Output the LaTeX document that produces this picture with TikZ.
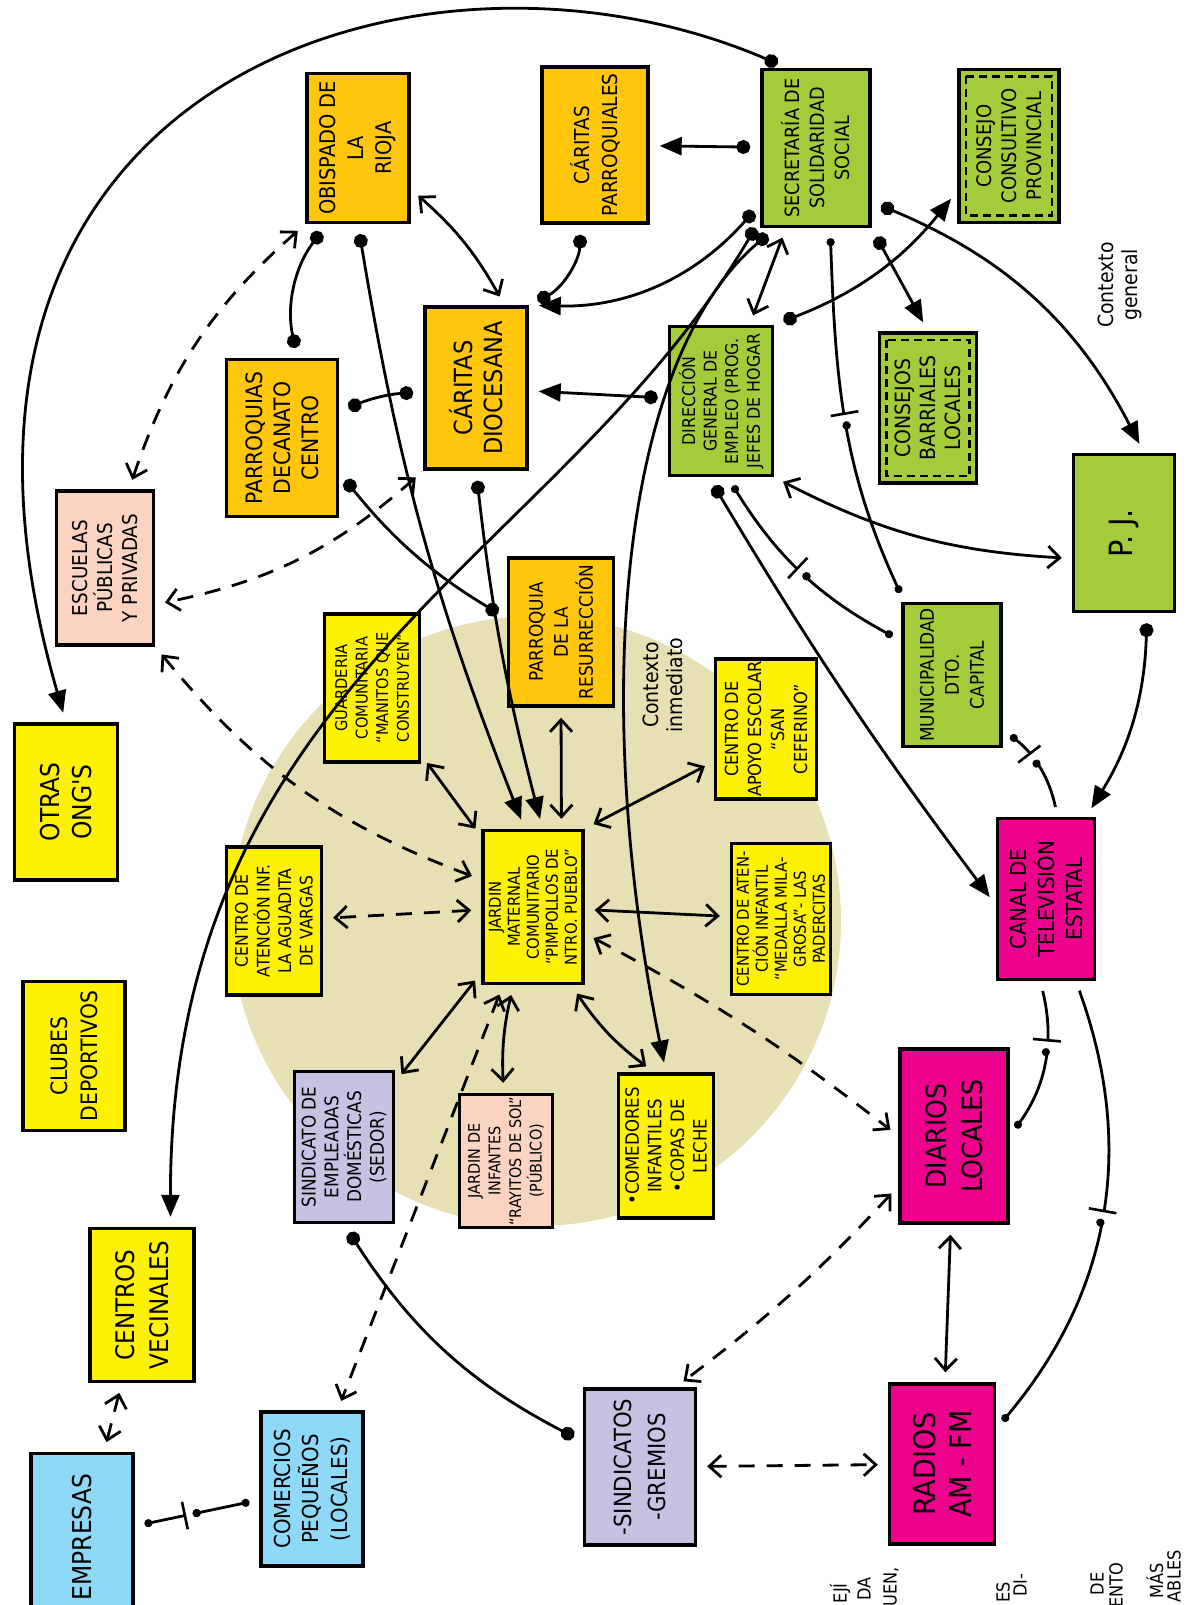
\documentclass[tikz,border=0pt]{standalone}
\usepackage{fontspec}
\newfontfamily\handfont{DejaVu Sans Condensed}
\usetikzlibrary{arrows.meta,decorations.markings}
\definecolor{orng}{RGB}{255,198,11}
\definecolor{grn}{RGB}{164,204,58}
\definecolor{yel}{RGB}{255,242,0}
\definecolor{peach}{RGB}{251,211,193}
\definecolor{lav}{RGB}{198,195,226}
\definecolor{mag}{RGB}{236,0,140}
\definecolor{blu}{RGB}{142,216,248}
\definecolor{beige}{RGB}{231,224,180}
\tikzset{
  box/.style={draw, line width=1.7pt, rotate=90, align=center, inner sep=1pt,
    font=\handfont\fontsize{10}{12.5}\selectfont},
  fs/.style 2 args={font=\handfont\fontsize{#1}{#2}\selectfont},
  sz/.style 2 args={minimum width=#2*0.5pt, minimum height=#1*0.5pt},
  innerdash/.style={draw, rotate=90, line width=1.1pt, dash pattern=on 4pt off 2.5pt},
  dt/.tip={Circle[length=7pt]},
  sdt/.tip={Circle[length=4pt]},
  tri/.tip={Triangle[length=11pt,width=9pt]},
  opn/.tip={Straight Barb[length=6pt,width=11pt]},
  link/.style={line width=1.4pt, shorten <=5pt, shorten >=5pt},
  dashlink/.style={link, dash pattern=on 8pt off 6pt},
  brk/.style={postaction={decorate, decoration={markings, mark=at position #1 with {
    \fill[white] (-2.5pt,-2pt) rectangle (2.5pt,2pt);
    \draw[line width=1.3pt] (-3pt,-7pt) -- (-3pt,7pt) (3pt,-7pt) -- (3pt,7pt);}}}},
  lbl/.style={rotate=90, align=center, font=\handfont\fontsize{10.5}{12}\selectfont},
  frag/.style={rotate=90, anchor=east, inner sep=0pt, font=\handfont\fontsize{9}{10}\selectfont}
}
\begin{document}
\begin{tikzpicture}[x=0.5pt,y=0.5pt]
\useasboundingbox (0,0) rectangle (1186,-1605);
\fill[beige] (536,-921) circle[radius=152.5pt];

\node[box, fill=orng, fs={10.8}{14}, sz={102}{149}] (obispado) at (358,-148) {OBISPADO DE\\LA\\RIOJA};
\node[box, fill=orng, fs={10.3}{14}, sz={106}{156}] (caritasp) at (595,-145) {CÁRITAS\\PARROQUIALES};
\node[box, fill=grn, fs={9.8}{12.5}, sz={108}{157}] (secretaria) at (816,-148) {SECRETARÍA DE\\SOLIDARIDAD\\SOCIAL};
\node[box, fill=grn, fs={10}{12.5}, sz={100}{153}] (consejop) at (1009,-146) {CONSEJO\\CONSULTIVO\\PROVINCIAL};
\node[innerdash, sz={86}{139}] (consejopin) at (consejop) {};
\node[box, fill=orng, fs={12.5}{15}, sz={102}{162}] (caritasd) at (476,-388) {CÁRITAS\\DIOCESANA};
\node[box, fill=orng, fs={11.3}{14}, sz={111}{157}] (parroquias) at (282,-438) {PARROQUIAS\\DECANATO\\CENTRO};
\node[box, fill=grn, fs={8.8}{10.8}, sz={103}{149}] (direccion) at (721,-401) {DIRECCIÓN\\GENERAL DE\\EMPLEO (PROG.\\JEFES DE HOGAR};
\node[box, fill=grn, fs={10.5}{12.5}, sz={97}{150}] (consejosb) at (928,-408) {CONSEJOS\\BARRIALES\\LOCALES};
\node[innerdash, sz={83}{136}] (consejosbin) at (consejosb) {};
\node[box, fill=peach, fs={10.2}{12.5}, sz={97}{154}] (escuelas) at (105,-568) {ESCUELAS\\PÚBLICAS\\Y PRIVADAS};
\node[box, fill=grn, fs={16}{18}, sz={101}{157}] (pj) at (1124,-533) {P. J.};
\node[box, fill=orng, fs={9.4}{12.5}, sz={105}{148}] (resurreccion) at (561,-632) {PARROQUIA\\DE LA\\RESURRECCIÓN};
\node[box, fill=yel, fs={8.1}{10.3}, sz={95}{148}] (guarderia) at (372,-688) {GUARDERIA\\COMUNITARIA\\“MANITOS QUE\\CONSTRUYEN”};
\node[box, fill=yel, fs={9}{11.5}, sz={101}{138}] (apoyo) at (766,-729) {CENTRO DE\\APOYO ESCOLAR\\“SAN\\CEFERINO”};
\node[box, fill=grn, fs={9.4}{12.5}, sz={98}{143}] (municipalidad) at (952,-675) {MUNICIPALIDAD\\DTO.\\CAPITAL};
\node[box, fill=yel, fs={13}{16}, sz={103}{156}] (ongs) at (66,-802) {OTRAS\\ONG'S};
\node[box, fill=yel, fs={8.7}{10.8}, sz={95}{148}] (aguadita) at (274,-921) {CENTRO DE\\ATENCIÓN INF.\\LA AGUADITA\\DE VARGAS};
\node[box, fill=yel, fs={8.2}{9.5}, sz={100}{153}] (jardin) at (533,-907) {JARDIN\\MATERNAL\\COMUNITARIO\\“PIMPOLLOS DE\\NTRO. PUEBLO”};
\node[box, fill=yel, fs={8.2}{9.5}, sz={99}{151}] (medalla) at (781,-919) {CENTRO DE ATEN-\\CIÓN INFANTIL\\“MEDALLA MILA-\\GROSA”- LAS\\PADERCITAS};
\node[box, fill=mag, fs={11}{14}, sz={97}{161}] (canal) at (1046,-899) {CANAL DE\\TELEVISIÓN\\ESTATAL};
\node[box, fill=yel, fs={11.3}{15}, sz={102}{149}] (clubes) at (74,-1056) {CLUBES\\DEPORTIVOS};
\node[box, fill=lav, fs={9.4}{11.4}, sz={99}{151}] (sedor) at (344,-1147) {SINDICATO DE\\EMPLEADAS\\DOMÉSTICAS\\(SEDOR)};
\node[box, fill=peach, fs={8}{10.3}, sz={93}{133}] (rayitos) at (506,-1161) {JARDIN DE\\INFANTES\\“RAYITOS DE SOL”\\(PÚBLICO)};
\node[box, fill=yel, fs={9.2}{11.3}, sz={95}{144}] (comedores) at (666,-1146) {•COMEDORES\\INFANTILES\\•COPAS DE\\LECHE};
\node[box, fill=mag, fs={14}{18}, sz={108}{174}] (diarios) at (954,-1136) {DIARIOS\\LOCALES};
\node[box, fill=yel, fs={12.8}{17}, sz={104}{153}] (vecinales) at (142,-1305) {CENTROS\\VECINALES};
\node[box, fill=lav, fs={11.8}{17}, sz={111}{156}] (gremios) at (640,-1467) {-SINDICATOS\\-GREMIOS};
\node[box, fill=mag, fs={15}{18}, sz={105}{160}] (radios) at (942,-1464) {RADIOS\\AM - FM};
\node[box, fill=blu, fs={13}{16}, sz={102}{167}] (empresas) at (82,-1537) {EMPRESAS};
\node[box, fill=blu, fs={11}{14.3}, sz={102}{154}] (comercios) at (312,-1489) {COMERCIOS\\PEQUEÑOS\\(LOCALES)};

\node[lbl] (ctxgeneral) at (1120,-285) {Contexto\\general};
\node[lbl] (ctxinmediato) at (663,-685) {Contexto\\inmediato};

\draw[link, dt-tri] (secretaria.20) .. controls (420,90) and (-120,-80) .. (ongs.east);
\draw[link, dt-tri] (secretaria.135) to[bend left=25] (caritasd.south east);
\draw[link, dt-tri] (secretaria) -- (caritasp);
\draw[link, dt-tri] (secretaria.142) .. controls (560,-560) and (170,-680) .. (vecinales.-20);
\draw[link, dt-tri] (secretaria.153) .. controls (620,-360) and (590,-700) .. (comedores.east);
\draw[link, opn-opn] (secretaria) -- (direccion);
\draw[link, sdt-sdt, brk=0.5] (secretaria.190) to[out=-88,in=115] (municipalidad.33);
\draw[link, dt-tri] (secretaria.south west) -- (consejosb.east);
\draw[link, dt-tri] (direccion.south east) to[bend right=15] (consejop.131);
\draw[link, dt-tri] (secretaria.226) to[bend left=20] (pj.-14);

\draw[link, opn-opn] (obispado.232) to[bend left=10] (caritasd.-19);
\draw[link, dt-dt] (obispado.158) to[bend right=25] (parroquias.-11);
\draw[link, dt-tri] (obispado.west) to[bend right=6] (jardin.6);
\draw[link, dt-tri] (caritasd.west) to[bend right=4] (jardin.-7);
\draw[link, dt-dt] (parroquias.239) to[bend right=10] (resurreccion.76);
\draw[link, dt-dt] (caritasp.170) to[bend left=30] (caritasd.south east);
\draw[link, dt-dt] (parroquias) to[bend left=10] (caritasd);
\draw[link, dt-tri] (direccion) -- (caritasd);
\draw[dashlink, opn-opn] (obispado.north west) to[bend right=15] (escuelas.-17);
\draw[dashlink, opn-opn] (caritasd.north west) to[bend left=15] (escuelas.234);
\draw[dashlink, opn-opn] (escuelas.south west) to[bend right=15] (jardin.62);

\draw[link, opn-opn] (direccion.south west) to[bend right=12] (pj.116);
\draw[link, dt-tri] (direccion.171) to[bend right=3] (canal.97);
\draw[link, sdt-sdt, brk=0.5] (direccion.185) to[bend right=15] (municipalidad.56);
\draw[link, dt-tri] (pj.196) to[bend left=15] (canal.-26);
\draw[link, sdt-, brk=0.4] (municipalidad.223) to[bend left=20] (canal.-8);
\draw[link, -sdt, brk=0.4] (canal.176) to[bend left=25] (diarios.south);
\draw[link, -sdt, brk=0.5] (canal.200) to[bend left=30] (radios.-57);
\draw[link, opn-opn] (diarios) -- (radios);

\draw[dashlink, opn-opn] (jardin.243) to[bend left=5] (diarios.north);
\draw[link, opn-opn] (jardin.south east) -- (apoyo.122);
\draw[link, opn-opn] (jardin) -- (medalla);
\draw[link, opn-opn] (jardin) -- (guarderia);
\draw[link, opn-opn] (jardin.-20) -- (resurreccion.west);
\draw[dashlink, opn-opn] (jardin) -- (aguadita);
\draw[link, opn-opn] (jardin) -- (sedor);
\draw[link, opn-opn] (jardin) to[bend right=8] (rayitos);
\draw[link, opn-opn] (jardin) to[bend right=10] (comedores.9);
\draw[dashlink, opn-opn] (jardin.159) -- (comercios.-18);

\draw[link, dt-dt] (sedor.west) to[bend right=15] (gremios.66);
\draw[dashlink, opn-opn] (diarios.132) to[bend left=5] (gremios.-24);
\draw[dashlink, opn-opn] (gremios) -- (radios);
\draw[dashlink, opn-opn] (vecinales) -- (empresas);
\draw[link, sdt-sdt, brk=0.45] (empresas) -- (comercios);

\node[frag] (fa) at (840,-1583) {EJÍ};
\node[frag] (fb) at (864,-1577) {DA};
\node[frag] (fc) at (891,-1567) {UEN,};
\node[frag] (fd) at (1003,-1582) {ES};
\node[frag] (fe) at (1020,-1573) {DI-};
\node[frag] (ff) at (1097,-1572) {DE};
\node[frag] (fg) at (1116,-1562) {ENTO};
\node[frag] (fh) at (1155,-1563) {MÁS};
\node[frag] (fi) at (1174,-1550) {ABLES};
\end{tikzpicture}
\end{document}
